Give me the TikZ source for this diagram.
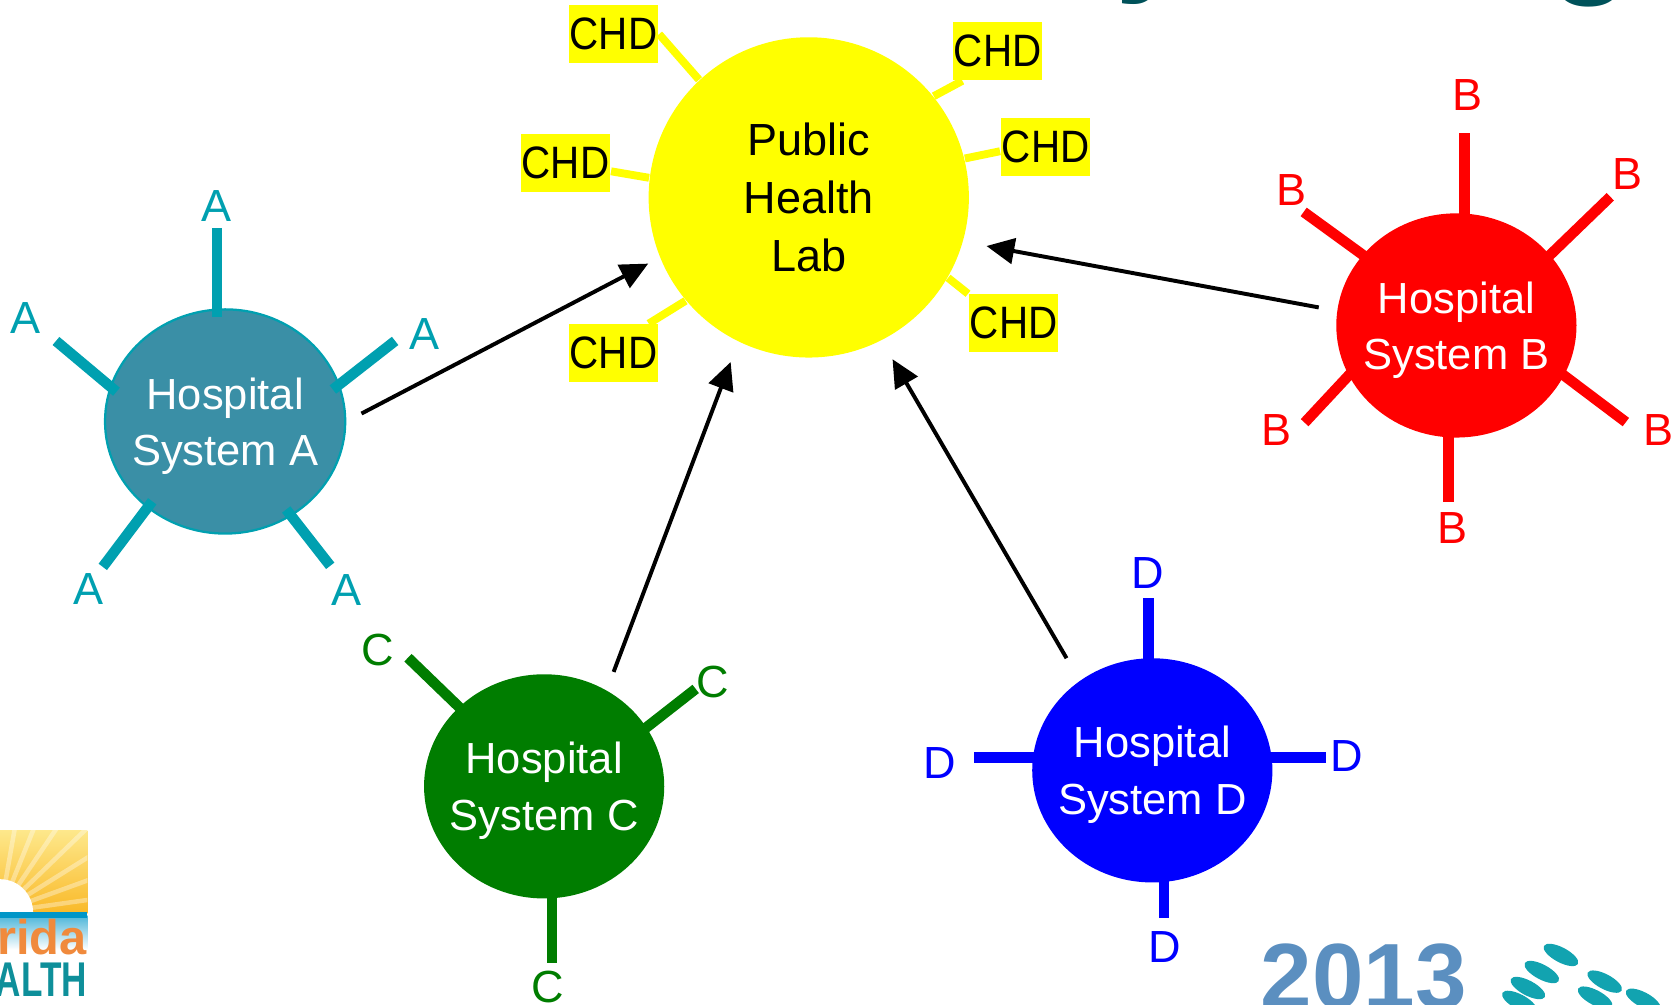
\documentclass[tikz,border=0pt]{standalone}
\usepackage{fontspec}
\setmainfont{Liberation Sans}
\newfontfamily\narrowfont{Liberation Sans}[FakeStretch=0.89]
\usepackage{tikz}
\usetikzlibrary{
  arrows.meta,
  positioning,
  shapes.geometric,
}
\definecolor{phlyellow}{RGB}{255,255,0}
\definecolor{hospA}{RGB}{58,143,166}
\definecolor{spokeA}{RGB}{0,160,176}
\definecolor{hospB}{RGB}{255,0,0}
\definecolor{hospC}{RGB}{0,125,0}
\definecolor{hospD}{RGB}{0,0,255}
\definecolor{titleteal}{RGB}{0,82,90}
\definecolor{yearblue}{RGB}{91,143,192}
\definecolor{dotteal}{RGB}{18,163,176}
\definecolor{logoorange}{RGB}{240,138,60}
\definecolor{logoteal}{RGB}{14,143,154}
\definecolor{sunyellow}{RGB}{253,222,90}
\definecolor{sunorange}{RGB}{249,185,40}
\definecolor{seablue}{RGB}{0,150,200}
\tikzset{
  >={Triangle[length=0.26cm, width=0.24cm]},
  phl/.style={circle, fill=phlyellow, minimum size=3cm, inner sep=0pt, align=center,
    font=\fontsize{12}{15.4}\selectfont},
  chd/.style={fill=phlyellow, minimum width=0.84cm, minimum height=0.54cm, inner sep=0pt,
    font=\narrowfont\fontsize{12.1}{14}\selectfont},
  phlspoke/.style={phlyellow, line width=2.1pt},
  hosp/.style={ellipse, minimum width=2.25cm, minimum height=2.1cm, inner xsep=-0.15cm,
    inner ysep=0pt, text depth=-0.05cm, align=center, text=white,
    font=\fontsize{11.6}{15}\selectfont},
  spoke/.style={line width=2.8pt, shorten <=-0.08cm},
  tag/.style={inner sep=0pt, font=\fontsize{12}{14}\selectfont},
  link/.style={->, line width=1.05pt},
  logo/.style={inner sep=0pt, font=\bfseries\fontsize{13}{14}\selectfont},
}

\begin{document}
\begin{tikzpicture}[x=0.01cm, y=0.01cm]
  \useasboundingbox (0,0) rectangle (1568,-941);
  \clip (0,0) rectangle (1568,-941);

  \node [phl] (phl) at (758,-185) {Public\\Health\\Lab};
  \node [chd] (chd1) at (575,-32) {CHD};
  \node [chd] (chd2) at (530,-153) {CHD};
  \node [chd] (chd3) at (575,-331) {CHD};
  \node [chd] (chd4) at (935,-48) {CHD};
  \node [chd] (chd5) at (980,-138) {CHD};
  \node [chd] (chd6) at (950,-303) {CHD};
  \foreach \a/\n/\b in {133/1/east, 173/2/-10, 220/3/40, 39/4/220, 14/5/185, 330/6/north west}
  {
    \draw [phlspoke] (phl.\a) -- (chd\n.\b);
  }

  \node [hosp, fill=hospA, draw=spokeA, line width=0.6pt] (hA) at (211,-395) {Hospital\\System A};
  \foreach \s/\d/\l/\x/\y [count=\i] in {94/90/75/203/193, 163/140/66/24/298, 18/38/66/398/313,
    228/233/69/83/552, 305/308/59/325/553}
  {
    \draw [spoke, spokeA] (hA.\s) -- ++(\d:\l);
    \node [tag, spokeA] (a\i) at (\x,-\y) {A};
  }

  \node [hosp, fill=hospB] (hB) at (1365,-305) {Hospital\\System B};
  \foreach \s/\d/\l/\x/\y [count=\i] in {86/90/75/1375/89, 143/144/68/1210/178, 37/44/78/1525/163,
    205/227/60/1196/403, 335/323/72/1554/403, 266/270/60/1361/495}
  {
    \draw [spoke, hospB] (hB.\s) -- ++(\d:\l);
    \node [tag, hospB] (b\i) at (\x,-\y) {B};
  }

  \node [hosp, fill=hospC] (hC) at (510,-737) {Hospital\\System C};
  \foreach \s/\d/\l/\x/\y [count=\i] in {137/136/66/354/609, 30/38/58/668/639, 274/270/60/513/925}
  {
    \draw [spoke, hospC] (hC.\s) -- ++(\d:\l);
    \node [tag, hospC] (c\i) at (\x,-\y) {C};
  }

  \node [hosp, fill=hospD] (hD) at (1080,-722) {Hospital\\System D};
  \foreach \s/\d/\l/\x/\y [count=\i] in {92/90/56/1076/537, 174/180/55/881/715, 6/0/50/1262/709,
    276/270/33/1092/888}
  {
    \draw [spoke, hospD] (hD.\s) -- ++(\d:\l);
    \node [tag, hospD] (d\i) at (\x,-\y) {D};
  }

  \draw [link, shorten <=0.16cm, shorten >=0.12cm] (hA.0) -- (phl.202);
  \draw [link, shorten <=0.18cm, shorten >=0.20cm] (hC.57) -- (phl.244);
  \draw [link, shorten <=0.24cm, shorten >=0.20cm] (hD.129) -- (phl.297);
  \draw [link, shorten <=0.17cm, shorten >=0.22cm] (hB.173) -- (phl.344);

  \node [anchor=base west, inner sep=0pt, titleteal, font=\bfseries\fontsize{36}{40}\selectfont]
    (t1) at (1045,22) {y};
  \node [anchor=base west, inner sep=0pt, titleteal, font=\bfseries\fontsize{36}{40}\selectfont]
    (t2) at (1452,20) {g};

  \begin{scope}
    \clip (0,-778) rectangle (82,-856);
    \shade [top color=sunyellow!70, bottom color=sunorange] (0,-778) rectangle (82,-856);
    \foreach \r in {8, 20, ..., 88}
    {
      \draw [white, opacity=0.35, line width=1.2pt] (0,-855) -- ++(\r:140);
    }
    \fill [white] (31,-855) arc (0:90:31) -- (0,-855) -- cycle;
  \end{scope}
  \shade [top color=seablue!70, bottom color=white] (0,-858) rectangle (82,-890);
  \fill [seablue] (0,-855) rectangle (82,-860);
  \node [logo, logoorange, anchor=base east] (fl) at (82,-895) {Florida};
  \node [logo, logoteal, anchor=base east, xscale=0.72] (hl) at (82,-934) {HEALTH};

  \node [anchor=base west, inner sep=0pt, yearblue, font=\bfseries\fontsize{24.7}{28}\selectfont]
    (yr) at (1181,-945) {2013};
  \foreach \x/\y in {1463/895, 1445/911, 1504/920, 1432/926, 1495/935, 1540/937, 1424/939}
  {
    \fill [dotteal, rotate around={-28:(\x,-\y)}] (\x,-\y) ellipse [x radius=0.18cm, y radius=0.07cm];
  }
\end{tikzpicture}
\end{document}
